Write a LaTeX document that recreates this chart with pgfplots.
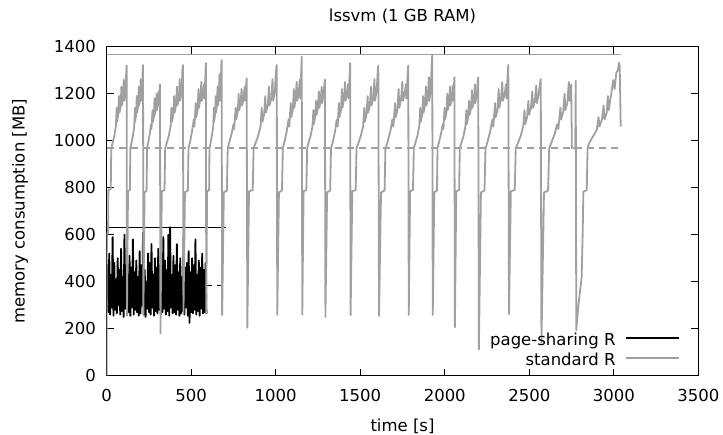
\documentclass[border=0pt]{standalone}
\usepackage{fontspec}
\setmainfont{DejaVu Sans}
\usepackage{pgfplots}
\pgfplotsset{compat=1.18}
\definecolor{lg}{RGB}{160,160,160}
\newcommand{\fs}{\fontsize{16.5}{19.8}\selectfont}
\begin{document}
\begin{tikzpicture}[font=\fs]
\useasboundingbox (0,0) rectangle (723pt,434pt);
\begin{axis}[
  at={(106.7pt,58.3pt)}, anchor=south west,
  scale only axis, width=591.6pt, height=329pt,
  xmin=0, xmax=3500, ymin=0, ymax=1400,
  xtick={0,500,...,3500}, ytick={0,200,...,1400},
  minor tick num=0,
  tick align=inside, major tick length=7pt,
  every tick/.style={black, line width=1pt},
  axis line style={line width=1.2pt},
  scaled ticks=false,
  /pgf/number format/1000 sep={},
  /pgf/number format/assume math mode=true,
  ticklabel style={font=\fs},
  xticklabel style={inner sep=0pt, anchor=north, yshift=-13.8pt},
  yticklabel style={inner sep=0pt, anchor=east, xshift=-10.7pt},
  title={lssvm (1 GB RAM)},
  every axis title/.style={at={(axis description cs:0.5,1)}, anchor=base, yshift=24.7pt, inner sep=0pt, font=\fs},
  xlabel={time [s]},
  xlabel style={at={(axis description cs:0.5,0)}, anchor=base, yshift=-55.7pt, inner sep=0pt, font=\fs},
  ylabel={memory consumption [MB]},
  ylabel style={at={(axis description cs:-0.1386,0.5)}, anchor=base, inner sep=0pt, font=\fs},
  legend style={at={(rel axis cs:1,0)}, anchor=south east, xshift=-18pt, yshift=5pt,
    draw=none, fill=none, inner sep=0pt, outer sep=0pt, row sep=2pt, column sep=9pt, font=\fs,
    nodes={inner sep=1pt, text height=12pt, text depth=4pt}},
  legend cell align=right, legend plot pos=right,
  legend image code/.code={\draw[#1, line width=1.8pt] (0pt,4pt) -- (53pt,4pt);},
]
\addplot[black, line width=1.2pt, forget plot] coordinates {(0,632) (706,632)};
\addplot[black, line width=1.6pt, dash pattern=on 6pt off 5pt, forget plot] coordinates {(0,383) (706,383)};
\addplot[black, line width=1.8pt, line join=round] coordinates {
(0,380) (5,470) (10,270) (15,520) (20,260) (25,430) (30,290) (35,590) (40,255) (45,480) (50,280) (55,410) (60,265) (65,500) (70,300) (75,450) (80,260) (85,540) (90,275) (95,420) (100,250) (105,600) (110,285) (115,470) (120,265) (125,430) (130,270) (135,510) (140,255) (145,460) (150,290) (155,580) (160,260) (165,440) (170,280) (175,490) (180,270) (185,420) (190,255) (195,530) (200,265) (205,470) (210,300) (215,610) (220,260) (225,450) (230,250) (235,400) (240,285) (245,520) (250,270) (255,480) (260,260) (265,560) (270,290) (275,430) (280,255) (285,500) (290,275) (295,460) (300,265) (305,540) (310,280) (315,470) (320,260) (325,420) (330,270) (335,590) (340,285) (345,490) (350,260) (355,450) (360,275) (365,600) (370,255) (375,632) (380,290) (385,430) (390,265) (395,510) (400,270) (405,470) (410,260) (415,560) (420,280) (425,440) (430,255) (435,500) (440,265) (445,420) (450,275) (455,590) (460,260) (465,460) (470,290) (475,480) (480,255) (485,530) (490,225) (495,440) (500,270) (505,500) (510,265) (515,470) (520,280) (525,580) (530,260) (535,430) (540,275) (545,490) (550,255) (555,460) (560,285) (565,520) (570,265) (575,450) (580,270) (585,480) (590,262)
};
\addlegendentry{page-sharing R}
\addplot[lg, line width=1.8pt, line join=round] coordinates {
(0,0) (1,606) (8,606) (10,790) (24,795) (27,968) (33,985) (45,1020) (54,1060) (59,1140) (61,1080) (68,1110) (73,1190) (76,1120) (83,1150) (87,1230) (90,1150) (97,1180) (101,1260) (104,1170) (111,1210) (116,1300) (118,1320)
(120,255) (126,785) (137,790) (140,968) (145,985) (155,1020) (163,1060) (167,1140) (168,1080) (174,1110) (178,1190) (180,1120) (186,1150) (190,1230) (192,1150) (198,1180) (201,1262) (203,1170) (209,1210) (213,1300) (215,1322)
(217,258) (224,780) (236,788) (239,968) (245,990) (255,1030) (262,1070) (265,1050) (271,1130) (273,1080) (279,1100) (283,1180) (285,1110) (291,1140) (295,1200) (297,1130) (303,1160) (307,1210) (309,1150) (314,1230) (315,1240)
(318,180) (326,785) (342,790) (346,968) (353,985) (367,1020) (378,1060) (383,1140) (386,1080) (394,1110) (399,1190) (402,1120) (410,1150) (416,1230) (418,1150) (427,1180) (432,1262) (435,1170) (443,1210) (448,1300) (451,1322)
(454,260) (463,780) (480,788) (484,968) (492,990) (505,1040) (515,1090) (519,1060) (527,1160) (530,1100) (538,1130) (543,1220) (546,1140) (554,1180) (560,1250) (563,1170) (571,1200) (576,1240) (579,1180) (586,1320) (587,1330)
(589,265) (594,785) (606,790) (608,968) (613,985) (622,1020) (630,1060) (634,1140) (635,1080) (641,1110) (645,1190) (647,1120) (652,1150) (656,1230) (658,1150) (663,1180) (667,1283) (669,1170) (674,1210) (678,1320) (680,1343)
(683,258) (693,780) (711,788) (716,968) (724,990) (739,1030) (750,1070) (754,1050) (763,1140) (766,1090) (775,1120) (781,1200) (784,1130) (792,1160) (798,1220) (801,1150) (810,1180) (816,1230) (819,1170) (826,1250) (828,1265)
(832,204) (842,785) (864,790) (869,968) (878,985) (896,1020) (910,1060) (917,1140) (921,1080) (931,1110) (938,1190) (942,1120) (953,1150) (960,1230) (963,1150) (974,1180) (981,1262) (985,1170) (995,1210) (1002,1300) (1006,1322)
(1009,258) (1019,780) (1037,788) (1042,968) (1050,990) (1065,1040) (1076,1090) (1080,1060) (1089,1160) (1092,1100) (1101,1130) (1107,1220) (1110,1140) (1118,1180) (1124,1250) (1127,1170) (1136,1200) (1142,1260) (1145,1180) (1153,1340) (1154,1358)
(1157,260) (1165,785) (1181,790) (1186,968) (1192,985) (1206,1020) (1217,1060) (1223,1130) (1225,1070) (1233,1100) (1239,1170) (1242,1110) (1250,1140) (1255,1210) (1258,1140) (1266,1170) (1272,1230) (1275,1160) (1283,1200) (1288,1240) (1291,1260)
(1294,250) (1304,780) (1322,788) (1327,968) (1336,990) (1351,1040) (1361,1090) (1366,1060) (1374,1160) (1377,1100) (1386,1130) (1392,1220) (1395,1140) (1404,1180) (1410,1250) (1413,1170) (1422,1200) (1428,1240) (1431,1180) (1439,1315) (1440,1330)
(1443,258) (1453,785) (1473,790) (1478,968) (1487,985) (1503,1020) (1517,1060) (1524,1140) (1527,1080) (1537,1110) (1544,1190) (1547,1120) (1557,1150) (1564,1230) (1567,1150) (1577,1180) (1584,1262) (1587,1170) (1597,1210) (1604,1300) (1607,1320)
(1611,254) (1623,780) (1644,788) (1649,968) (1660,990) (1678,1040) (1690,1090) (1696,1060) (1706,1160) (1710,1100) (1720,1130) (1727,1220) (1731,1140) (1742,1180) (1749,1250) (1752,1170) (1763,1200) (1770,1240) (1773,1180) (1782,1305) (1784,1320)
(1787,258) (1795,785) (1812,790) (1817,968) (1824,985) (1838,1020) (1849,1060) (1855,1140) (1858,1080) (1866,1110) (1872,1190) (1875,1120) (1883,1150) (1889,1230) (1892,1150) (1900,1180) (1906,1270) (1909,1170) (1917,1220) (1923,1330) (1926,1366)
(1929,258) (1938,780) (1954,788) (1957,968) (1965,990) (1978,1030) (1988,1070) (1992,1050) (1999,1140) (2002,1090) (2010,1120) (2015,1200) (2018,1130) (2026,1160) (2031,1230) (2033,1150) (2041,1180) (2047,1235) (2049,1170) (2056,1255) (2057,1270)
(2060,206) (2068,785) (2085,790) (2089,968) (2096,985) (2111,1020) (2122,1060) (2128,1130) (2130,1070) (2139,1100) (2144,1170) (2147,1110) (2156,1140) (2161,1215) (2164,1140) (2173,1170) (2178,1240) (2181,1160) (2190,1200) (2195,1250) (2198,1270)
(2202,112) (2214,780) (2235,788) (2241,968) (2251,990) (2269,1040) (2282,1090) (2287,1060) (2298,1160) (2301,1100) (2312,1130) (2319,1220) (2323,1140) (2333,1180) (2340,1250) (2344,1170) (2355,1200) (2362,1240) (2365,1180) (2374,1305) (2376,1322)
(2380,262) (2391,785) (2414,790) (2420,968) (2430,985) (2449,1020) (2464,1060) (2472,1130) (2476,1070) (2487,1100) (2495,1170) (2499,1110) (2510,1140) (2518,1210) (2522,1140) (2533,1170) (2541,1235) (2545,1160) (2556,1200) (2564,1245) (2568,1262)
(2572,140) (2587,780) (2611,788) (2618,968) (2630,990) (2651,1030) (2665,1070) (2672,1050) (2684,1140) (2688,1090) (2700,1120) (2709,1200) (2713,1130) (2725,1160) (2734,1250) (2738,1170) (2748,1240) (2752,968) (2772,968) (2775,1255)
(2778,194) (2790,294) (2810,421) (2816,606) (2820,783) (2840,790) (2845,968) (2855,990) (2870,1010) (2899,1045) (2910,1100) (2915,1060) (2930,1090) (2940,1150) (2945,1090) (2958,1118) (2965,1190) (2970,1130) (2985,1200) (2997,1258) (3005,1220) (3015,1290) (3025,1300) (3030,1332) (3035,1320) (3041,1060)
};
\addlegendentry{standard R}
\addplot[lg, line width=1.2pt, forget plot] coordinates {(0,1366) (3041,1366)};
\addplot[lg, line width=1.8pt, dash pattern=on 7pt off 5pt, forget plot] coordinates {(0,968) (3041,968)};
\end{axis}
\end{tikzpicture}
\end{document}
